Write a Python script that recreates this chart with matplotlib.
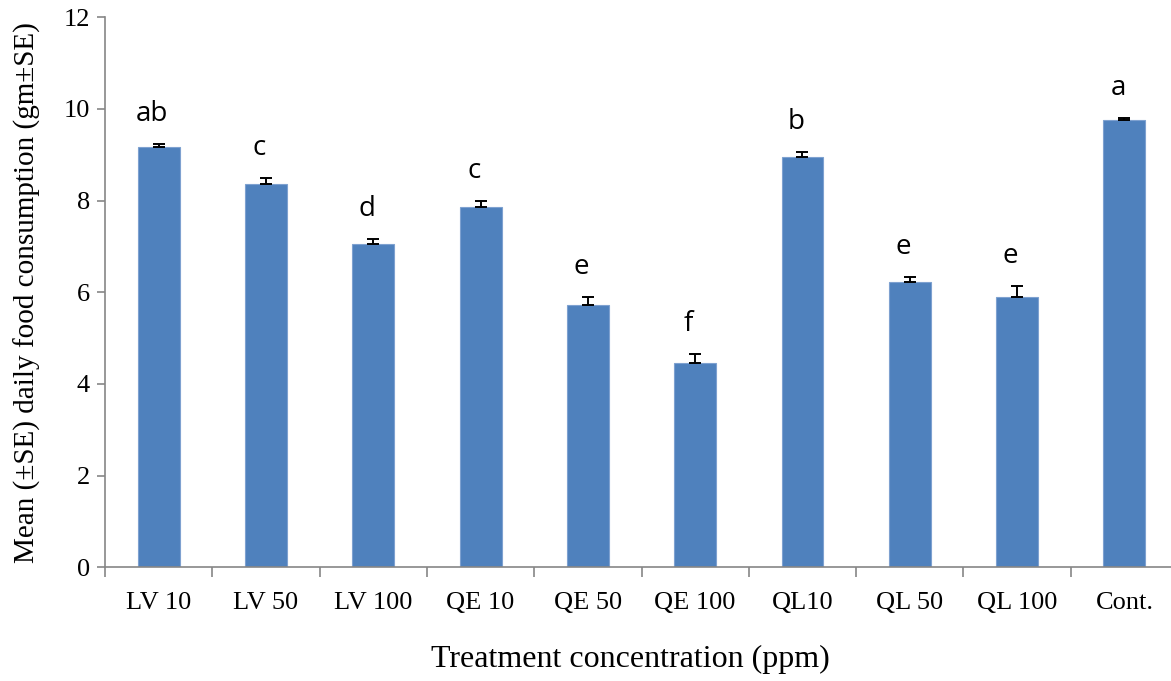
import matplotlib.pyplot as plt
import numpy as np

treatments = ['LV 10', 'LV 50', 'LV 100', 'QE 10', 'QE 50', 'QE 100',
              'QL10', 'QL 50', 'QL 100', 'Cont.']
means = [9.16, 8.37, 7.05, 7.86, 5.73, 4.45, 8.95, 6.22, 5.90, 9.77]
se = [0.07, 0.13, 0.12, 0.13, 0.17, 0.21, 0.11, 0.12, 0.23, 0.04]
groups = ['ab', 'c', 'd', 'c', 'e', 'f', 'b', 'e', 'e', 'a']

fig = plt.figure(figsize=(11.71, 6.81), dpi=100)
ax = fig.add_axes([0.0897, 0.167, 0.9163, 0.8076])

x = np.arange(len(treatments))
ax.bar(x, means, width=0.39, color='#4F81BD', edgecolor='#7EA1D0', linewidth=0.8,
       zorder=2)
# only the upper half of each error bar is shown
ax.errorbar(x, means, yerr=[np.zeros(len(se)), se], fmt='none', ecolor='black',
            elinewidth=1.4, capsize=4, capthick=1.4, zorder=3)

# significance letters above each bar
for xi, m, s, g in zip(x, means, se, groups):
    ax.text(xi - 0.06, m + s + 0.5, g, ha='center', va='baseline',
            fontsize=20, family='Open Sans')

ax.set_xlim(-0.5, len(treatments) - 0.5)
ax.set_ylim(0, 12)
ax.set_yticks(range(0, 13, 2))

ax.set_xticks(x)
ax.set_xticklabels(treatments)
ax.set_xticks(np.arange(-0.5, len(treatments), 1.0), minor=True)
ax.tick_params(axis='x', which='major', length=0, pad=18)
ax.tick_params(axis='x', which='minor', length=7, width=1.2, color='#868686')
ax.tick_params(axis='y', length=6, width=1.2, color='#868686', pad=5)

for lab in ax.get_xticklabels() + ax.get_yticklabels():
    lab.set_family('Liberation Serif')
    lab.set_fontsize(19)

for side in ['top', 'right']:
    ax.spines[side].set_visible(False)
for side in ['left', 'bottom']:
    ax.spines[side].set_color('#868686')
    ax.spines[side].set_linewidth(1.2)

ax.set_xlabel('Treatment concentration (ppm)', family='Liberation Serif', fontsize=23)
ax.set_ylabel('Mean (±SE) daily food consumption (gm±SE)', family='Liberation Serif',
              fontsize=21)
ax.xaxis.set_label_coords(0.49, -0.168)
ax.xaxis.label.set_va('center')
ax.yaxis.set_label_coords(-0.072, 0.5)
ax.yaxis.label.set_va('center')

plt.savefig('out.png', dpi=100)
plt.close()
